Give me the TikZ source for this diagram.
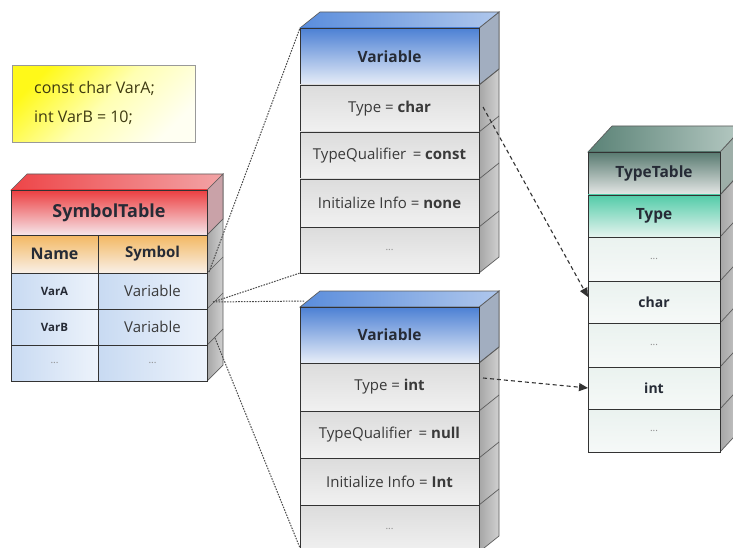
\documentclass[tikz,border=0pt]{standalone}
\usepackage{fontspec}
\setmainfont{Open Sans}
\usetikzlibrary{arrows.meta}
\definecolor{edge}{HTML}{333333}
\definecolor{txt}{HTML}{3A3A3A}
\definecolor{ttl}{HTML}{262B36}
\definecolor{sideA}{HTML}{A6A6A6}
\definecolor{sideB}{HTML}{D0D0D0}
\definecolor{redT}{HTML}{EC3E40}
\definecolor{redB}{HTML}{F6E6EA}
\definecolor{redTopL}{HTML}{EE4548}
\definecolor{redTopR}{HTML}{F2A4A6}
\definecolor{redSide}{HTML}{C9A2A8}
\definecolor{orT}{HTML}{F3B862}
\definecolor{orB}{HTML}{F9F0E8}
\definecolor{blL}{HTML}{C8DAF2}
\definecolor{blR}{HTML}{EDF3FB}
\definecolor{vbT}{HTML}{4C80D4}
\definecolor{vbB}{HTML}{E8EEF8}
\definecolor{vbTopL}{HTML}{5A8DDC}
\definecolor{vbTopR}{HTML}{AFC7EC}
\definecolor{vbSide}{HTML}{A2AEC0}
\definecolor{grT}{HTML}{DCDCDC}
\definecolor{grB}{HTML}{F1F1F1}
\definecolor{tgT}{HTML}{587A70}
\definecolor{tgB}{HTML}{E6E8E7}
\definecolor{tgTopL}{HTML}{5A8276}
\definecolor{tgTopR}{HTML}{B7CAC4}
\definecolor{tgSide}{HTML}{9DAEA8}
\definecolor{mintT}{HTML}{52CBA8}
\definecolor{mintB}{HTML}{E6F4EF}
\definecolor{paleT}{HTML}{EAF2EF}
\definecolor{paleB}{HTML}{F6F9F8}
\definecolor{codeTxt}{HTML}{3E3A10}
\begin{document}
\begin{tikzpicture}[x=1pt,y=-1pt,
  cell/.style={draw=edge, line width=0.9pt, inner sep=0pt, outer sep=0pt, anchor=north west,
    font=\fontsize{15}{18}\selectfont, text=txt},
  ttlfont/.style={font=\fontsize{15.5}{18}\selectfont\bfseries, text=ttl},
  dots/.style={font=\fontsize{10}{11}\selectfont, text=black!45},
  side/.style={left color=sideA, right color=sideB, draw=edge!80, line width=0.7pt},
  faceline/.style={draw=edge!80, line width=0.7pt},
  dotline/.style={draw=black!70, line width=1pt, dash pattern=on 1.6pt off 1.2pt},
  dasharrow/.style={draw=black!80, line width=1.1pt, dash pattern=on 4pt off 3pt,
    -{Triangle[length=9pt,width=8pt]}}]
\useasboundingbox (0,0) rectangle (733,548);
\clip (0,0) rectangle (733,548);
\fill[white] (0,0) rectangle (733,548);

% ---------- code box ----------
\node[draw=black!40, line width=0.8pt, anchor=north west, minimum width=183pt, minimum height=77pt,
  inner sep=0pt, shading=axis, left color=yellow!95!orange!90, right color=white!95!yellow, middle color=yellow!30!white,
  shading angle=45] (codebox) at (12,65) {};
\node[anchor=west, font=\fontsize{16}{19}\selectfont, text=codeTxt, inner sep=0pt] (code1) at (34,88) {const char VarA;};
\node[anchor=west, font=\fontsize{16}{19}\selectfont, text=codeTxt, inner sep=0pt] (code2) at (34,118) {int VarB = 10;};

% ---------- SymbolTable ----------
\path[side] (207,190) -- (223,174) -- (223,365) -- (207,381) -- cycle;
\path[fill=redSide, faceline] (207,190) -- (223,174) -- (223,219) -- (207,235) -- cycle;
\foreach \yy in {235,273,309,345} \draw[faceline] (207,\yy) -- ++(16,-16);
\path[left color=redTopL, right color=redTopR, faceline] (11,190) -- (27,174) -- (223,174) -- (207,190) -- cycle;
\node[cell, minimum width=196pt, minimum height=45pt, top color=redT, bottom color=redB, font=\fontsize{18}{21}\selectfont\bfseries, text=ttl] (stitle) at (11,190) {SymbolTable};
\node[cell, minimum width=87pt, minimum height=38pt, top color=orT, bottom color=orB, font=\fontsize{16}{19}\selectfont\bfseries, text=ttl] (sname) at (11,235) {Name};
\node[cell, minimum width=109pt, minimum height=38pt, top color=orT, bottom color=orB, font=\fontsize{15}{18}\selectfont\bfseries, text=ttl] (ssym) at (98,235) {Symbol};
\node[cell, minimum width=87pt, minimum height=36pt, left color=blL, right color=blR, font=\fontsize{11.5}{14}\selectfont\bfseries, text=ttl] (sa1) at (11,273) {VarA};
\node[cell, minimum width=109pt, minimum height=36pt, left color=blL, right color=blR] (sa2) at (98,273) {Variable};
\node[cell, minimum width=87pt, minimum height=36pt, left color=blL, right color=blR, font=\fontsize{11.5}{14}\selectfont\bfseries, text=ttl] (sb1) at (11,309) {VarB};
\node[cell, minimum width=109pt, minimum height=36pt, left color=blL, right color=blR] (sb2) at (98,309) {Variable};
\node[cell, minimum width=87pt, minimum height=36pt, left color=blL, right color=blR, dots] (sc1) at (11,345) {...};
\node[cell, minimum width=109pt, minimum height=36pt, left color=blL, right color=blR, dots] (sc2) at (98,345) {...};

% ---------- Variable 1 ----------
\path[side] (479,28) -- (499,12) -- (499,257) -- (479,273) -- cycle;
\path[fill=vbSide, faceline] (479,28) -- (499,12) -- (499,69) -- (479,85) -- cycle;
\foreach \yy in {85,132,179,227} \draw[faceline] (479,\yy) -- ++(20,-16);
\path[left color=vbTopL, right color=vbTopR, faceline] (300,28) -- (320,12) -- (499,12) -- (479,28) -- cycle;
\node[cell, minimum width=179pt, minimum height=57pt, top color=vbT, bottom color=vbB, ttlfont] (vtitle) at (300,28) {Variable};
\node[cell, minimum width=179pt, minimum height=47pt, top color=grT, bottom color=grB] (vtype) at (300,85) {Type = \textbf{char}};
\node[cell, minimum width=179pt, minimum height=47pt, top color=grT, bottom color=grB] (vtq) at (300,132) {TypeQualifier\, = \textbf{const}};
\node[cell, minimum width=179pt, minimum height=48pt, top color=grT, bottom color=grB] (vinit) at (300,179) {Initialize Info = \textbf{none}};
\node[cell, minimum width=179pt, minimum height=46pt, top color=grT, bottom color=grB, dots] (vmore) at (300,227) {...};

% ---------- Variable 2 ----------
\path[side] (479,307) -- (499,291) -- (499,536) -- (479,552) -- cycle;
\path[fill=vbSide, faceline] (479,307) -- (499,291) -- (499,347) -- (479,363) -- cycle;
\foreach \yy in {363,411,458,505} \draw[faceline] (479,\yy) -- ++(20,-16);
\path[left color=vbTopL, right color=vbTopR, faceline] (300,307) -- (320,291) -- (499,291) -- (479,307) -- cycle;
\node[cell, minimum width=179pt, minimum height=56pt, top color=vbT, bottom color=vbB, ttlfont] (wtitle) at (300,307) {Variable};
\node[cell, minimum width=179pt, minimum height=48pt, top color=grT, bottom color=grB] (wtype) at (300,363) {Type = \textbf{int}};
\node[cell, minimum width=179pt, minimum height=47pt, top color=grT, bottom color=grB] (wtq) at (300,411) {TypeQualifier\, = \textbf{null}};
\node[cell, minimum width=179pt, minimum height=47pt, top color=grT, bottom color=grB] (winit) at (300,458) {Initialize Info = \textbf{Int}};
\node[cell, minimum width=179pt, minimum height=47pt, top color=grT, bottom color=grB, dots] (wmore) at (300,505) {...};

% ---------- TypeTable ----------
\path[side] (720,152) -- (744,126) -- (744,426) -- (720,452) -- cycle;
\path[fill=tgSide, faceline] (720,152) -- (744,126) -- (744,169) -- (720,195) -- cycle;
\foreach \yy in {195,237,281,323,367,409} \draw[faceline] (720,\yy) -- ++(24,-26);
\path[left color=tgTopL, right color=tgTopR, faceline] (588,152) -- (612,126) -- (744,126) -- (720,152) -- cycle;
\node[cell, minimum width=132pt, minimum height=43pt, top color=tgT, bottom color=tgB, ttlfont] (ttitle) at (588,152) {TypeTable};
\node[cell, minimum width=132pt, minimum height=42pt, top color=mintT, bottom color=mintB, ttlfont] (ttype) at (588,195) {Type};
\node[cell, minimum width=132pt, minimum height=44pt, top color=paleT, bottom color=paleB, dots] (tm1) at (588,237) {...};
\node[cell, minimum width=132pt, minimum height=42pt, top color=paleT, bottom color=paleB, font=\fontsize{14}{17}\selectfont\bfseries, text=ttl] (tchar) at (588,281) {char};
\node[cell, minimum width=132pt, minimum height=44pt, top color=paleT, bottom color=paleB, dots] (tm2) at (588,323) {...};
\node[cell, minimum width=132pt, minimum height=42pt, top color=paleT, bottom color=paleB, font=\fontsize{14}{17}\selectfont\bfseries, text=ttl] (tint) at (588,367) {int};
\node[cell, minimum width=132pt, minimum height=43pt, top color=paleT, bottom color=paleB, dots] (tm3) at (588,409) {...};

% ---------- connectors ----------
\coordinate (sA) at (209,272);
\coordinate (sB) at (213,302);
\coordinate (sC) at (215,338);
\draw[dotline] (sA) -- (vtitle.north west);
\draw[dotline] (sB) -- (vmore.south west);
\draw[dotline] (sB) -- ([xshift=5pt,yshift=6pt]wtitle.north west);
\draw[dotline] (sC) -- ([yshift=4pt]wmore.south west);

\coordinate (vA) at (483,107);
\coordinate (wA) at (483,378);
\draw[dasharrow] (vA) -- ([yshift=5pt]tchar.west);
\draw[dasharrow] (wA) -- (tint.west);
\end{tikzpicture}
\end{document}
